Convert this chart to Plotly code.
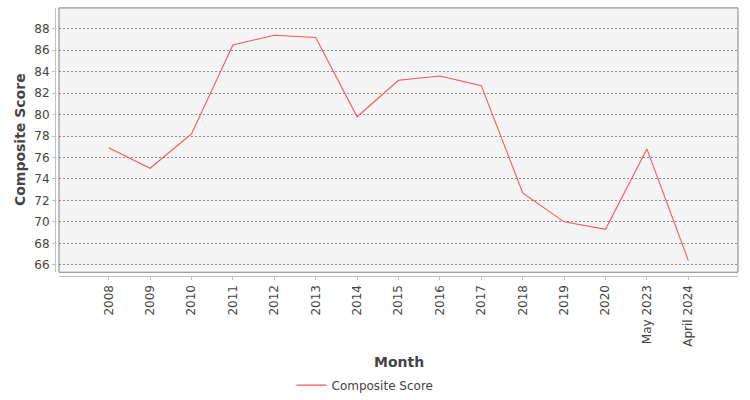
#!/usr/bin/env python3
# -*- coding: utf-8 -*-
"""
Composite score by month - line chart in a JFreeChart-like style.
"""

import plotly.graph_objects as go

# --- data ---
months = ["2008", "2009", "2010", "2011", "2012", "2013", "2014", "2015",
          "2016", "2017", "2018", "2019", "2020", "May 2023", "April 2024"]
composite_score = [76.9, 75.0, 78.2, 86.5, 87.4, 87.2, 79.8, 83.2,
                   83.6, 82.7, 72.7, 70.0, 69.3, 76.8, 66.4]
y_ticks = [66, 68, 70, 72, 74, 76, 78, 80, 82, 84, 86, 88]

W, H = 750, 400
FONT = "DejaVu Sans"
TXT = "#444444"

# plot area in pixels (left, right, top, bottom)
px_l, px_r, px_t, px_b = 59, 738, 8, 275
axis_gap = 4

fig = go.Figure()

fig.add_trace(go.Scatter(
    x=months,
    y=composite_score,
    mode="lines",
    line=dict(color="#ff5555", width=1.1),
    name="Composite Score",
))

fig.update_layout(
    width=W, height=H,
    margin=dict(l=0, r=0, t=0, b=0),
    paper_bgcolor="white",
    plot_bgcolor="#f4f4f4",
    font=dict(family=FONT, size=12, color=TXT),
    showlegend=True,
    legend=dict(
        orientation="h",
        x=(W / 2 - 10) / W, xanchor="center",
        y=1 - 389 / H, yanchor="middle",
        font=dict(family=FONT, size=12, color=TXT),
        bgcolor="rgba(0,0,0,0)",
        itemwidth=30,
    ),
    xaxis=dict(
        domain=[px_l / W, px_r / W],
        anchor="free",
        position=1 - (px_b + axis_gap) / H,
        type="category",
        range=[-1.2, len(months) - 1 + 1.2],
        tickangle=-90,
        showgrid=False,
        showline=True, linecolor="#c0c0c0", linewidth=1,
        ticks="outside", ticklen=3, tickcolor="#c0c0c0",
        tickfont=dict(family=FONT, size=12, color=TXT),
        zeroline=False,
        automargin=False,
        fixedrange=True,
    ),
    yaxis=dict(
        domain=[1 - px_b / H, 1 - px_t / H],
        anchor="free",
        position=(px_l - axis_gap) / W,
        range=[65.3, 89.95],
        tickvals=y_ticks,
        showgrid=True, gridcolor="#8f8f8f", gridwidth=1, griddash="2px,2px",
        showline=True, linecolor="#c0c0c0", linewidth=1,
        ticks="outside", ticklen=3, tickcolor="#c0c0c0",
        tickfont=dict(family=FONT, size=12, color=TXT),
        zeroline=False,
        automargin=False,
        fixedrange=True,
    ),
    shapes=[
        # plot area outline
        dict(type="rect", xref="x domain", yref="y domain",
             x0=0, x1=1, y0=0, y1=1,
             line=dict(color="#808080", width=1), layer="above"),
    ],
    annotations=[
        dict(text="<b>Month</b>", xref="paper", yref="paper",
             x=(px_l + px_r) / 2 / W, y=1 - 366 / H,
             xanchor="center", yanchor="middle", showarrow=False,
             font=dict(family=FONT, size=14, color=TXT)),
        dict(text="<b>Composite Score</b>", xref="paper", yref="paper",
             x=20 / W, y=1 - (px_t + px_b) / 2 / H, textangle=-90,
             xanchor="center", yanchor="middle", showarrow=False,
             font=dict(family=FONT, size=14, color=TXT)),
    ],
)

# pin the figure to the top-left corner of the page with no extra height
page_fix = (
    "document.body.style.margin='0';"
    "document.body.style.overflow='hidden';"
    "document.documentElement.style.overflow='hidden';"
    "document.body.style.height='400px';"
)
fig.write_html("out.html", config={"displayModeBar": False},
               post_script=page_fix)
